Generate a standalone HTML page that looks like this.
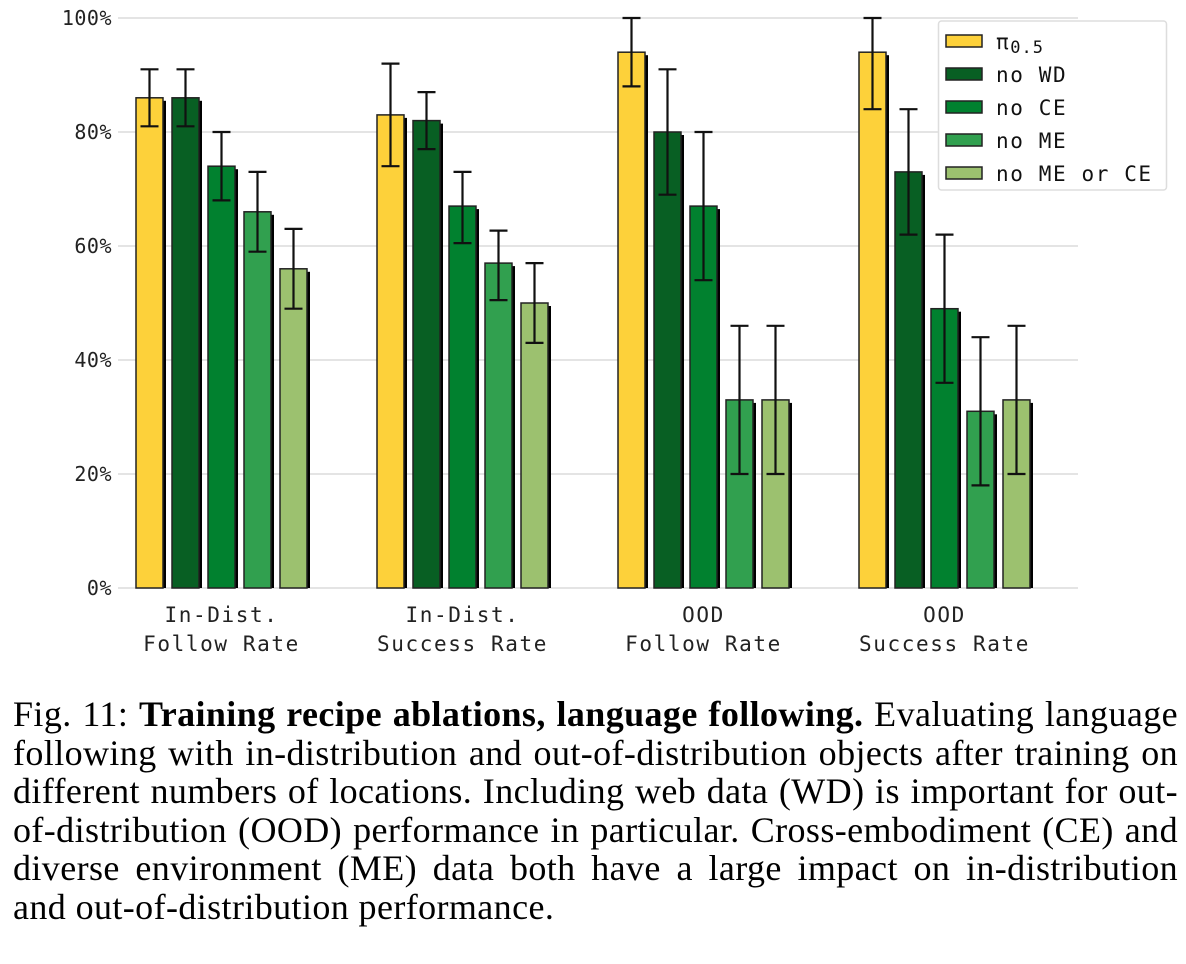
<!DOCTYPE html>
<html><head><meta charset="utf-8"><style>
body{margin:0;background:#fff;width:1186px;height:964px;overflow:hidden}
svg text{font-family:"DejaVu Sans Mono","Liberation Mono",monospace}
#cap{position:absolute;left:13px;top:695px;width:1165px;font-family:"Liberation Serif",serif;font-size:36px;letter-spacing:0.4px;line-height:38.5px;color:#000}
#cap div{text-align:justify;text-align-last:justify;white-space:nowrap}
#cap div.last{text-align-last:left}
</style></head><body>
<svg id="chart" width="1186" height="690" style="position:absolute;left:0;top:0"></svg>
<div id="cap">
<div>Fig. 11: <b>Training recipe ablations, language following.</b> Evaluating language</div>
<div>following with in-distribution and out-of-distribution objects after training on</div>
<div>different numbers of locations. Including web data (WD) is important for out-</div>
<div>of-distribution (OOD) performance in particular. Cross-embodiment (CE) and</div>
<div>diverse environment (ME) data both have a large impact on in-distribution</div>
<div class="last">and out-of-distribution performance.</div>
</div>
<script>
const categories=[["In-Dist.","Follow Rate"],["In-Dist.","Success Rate"],["OOD","Follow Rate"],["OOD","Success Rate"]];
const seriesNames=["π0.5","no WD","no CE","no ME","no ME or CE"];
const colors=["#fdd13a","#085f23","#01812f","#31a04f","#9cc16f"];
const values=[[86,86,74,66,56],[83,82,67,57,50],[94,80,67,33,33],[94,73,49,31,33]];
const errLow=[[81,81,68,59,49],[74,77,60.5,50.5,43],[88,69,54,20,20],[84,62,36,18,20]];
const errHigh=[[91,91,80,73,63],[92,87,73,62.7,57],[100,91,80,46,46],[100,84,62,44,46]];
const yTicks=[0,20,40,60,80,100];
const NS="http://www.w3.org/2000/svg";
const svg=document.getElementById('chart');
function mk(t,a,p){const e=document.createElementNS(NS,t);for(const k in a)e.setAttribute(k,a[k]);(p||svg).appendChild(e);return e;}
const y=v=>588-v*5.7;
const x=(g,s)=>136+g*241+s*36;
const bw=27;
yTicks.forEach(t=>{
  const l=mk('line',{x1:118,x2:1078,y1:y(t),y2:y(t),stroke:'#dcdcdc','stroke-width':1.5});
  
  
  const tx=mk('text',{x:112,y:y(t)+7,'text-anchor':'end','font-size':20,'letter-spacing':0.5,fill:'#222'});
  tx.textContent=t+'%';
  
  
});
values.forEach((grp,g)=>{
  grp.forEach((v,s)=>{
    const sh=mk('rect',{x:x(g,s)+3,y:y(v)+3,width:bw,height:588-y(v)-3,fill:'#000'});
    
    
    const r=mk('rect',{x:x(g,s),y:y(v),width:bw,height:588-y(v),fill:colors[s],stroke:'#222','stroke-width':1.5});
    
    
    const cx=x(g,s)+bw/2;
    const e=mk('path',{d:`M${cx},${y(errLow[g][s])}V${y(errHigh[g][s])}M${cx-9},${y(errLow[g][s])}h18M${cx-9},${y(errHigh[g][s])}h18`,stroke:'#111','stroke-width':2.2,fill:'none'});
    
    
  });
  const c=x(g,2)+bw/2;
  categories[g].forEach((t,i)=>{
    const tx=mk('text',{x:c,y:622+i*29,'text-anchor':'middle','font-size':21,'letter-spacing':1.6,fill:'#222'});
    tx.textContent=t;
    
    
  });
});
const lg=mk('g',{});


mk('rect',{x:938.5,y:21,width:228,height:169,rx:3,fill:'#fff',stroke:'#ddd','stroke-width':1.5},lg);
seriesNames.forEach((n,i)=>{
  const yy=41+i*33;
  const sw=mk('rect',{x:946,y:yy-6,width:36,height:12,fill:colors[i],stroke:'#222','stroke-width':1.5},lg);
  
  
  const tx=mk('text',{x:996,y:yy+8,'font-size':21,'letter-spacing':1.6,fill:'#111'},lg);
  if(i===0){tx.innerHTML='π<tspan font-size="17" dy="4" letter-spacing="1">0.5</tspan>';}else tx.textContent=n;
  
  
});
</script>
</body></html>
